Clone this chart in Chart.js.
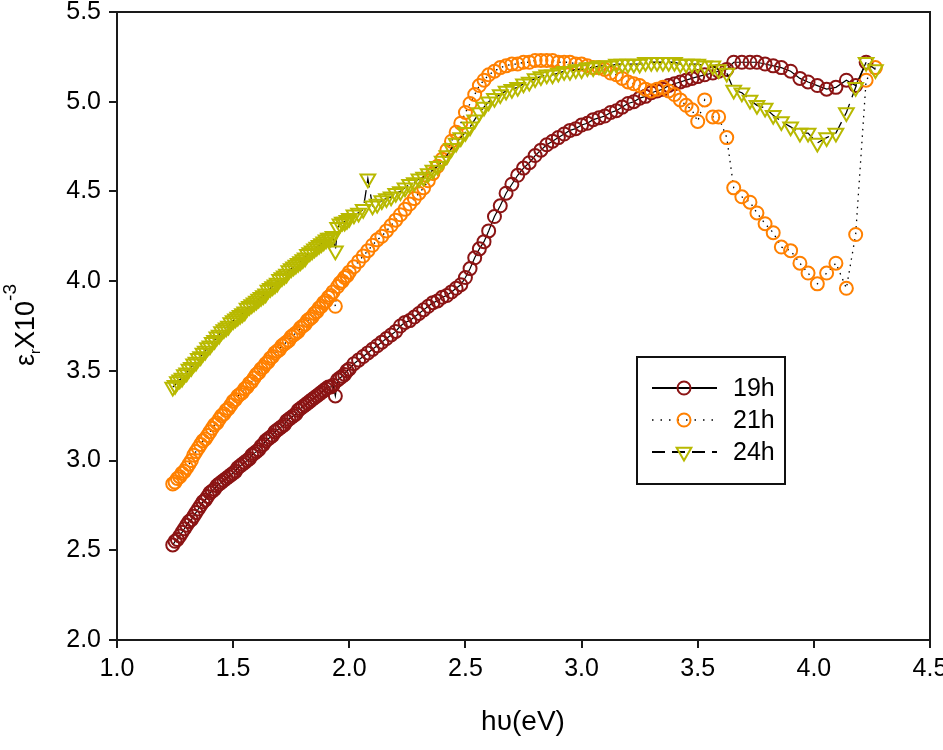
<!DOCTYPE html>
<html>
<head>
<meta charset="utf-8">
<script src="https://cdn.jsdelivr.net/npm/chart.js@4.4.0/dist/chart.umd.min.js"></script>
<style>
html, body { margin: 0; padding: 0; background: #fff; }
#wrap { width: 943px; height: 750px; }
</style>
</head>
<body>
<div id="wrap"><canvas id="epsChart"></canvas></div>
<script>
// photon energy (eV), shared by the three samples
const energy = [
    1.24, 1.25, 1.26, 1.27, 1.28, 1.29, 1.30, 1.31, 1.32, 1.33,
    1.34, 1.35, 1.36, 1.37, 1.38, 1.39, 1.40, 1.41, 1.42, 1.43,
    1.44, 1.45, 1.46, 1.47, 1.48, 1.49, 1.50, 1.51, 1.52, 1.53,
    1.54, 1.55, 1.56, 1.57, 1.58, 1.59, 1.60, 1.61, 1.62, 1.63,
    1.64, 1.65, 1.66, 1.67, 1.68, 1.69, 1.70, 1.71, 1.72, 1.73,
    1.74, 1.75, 1.76, 1.77, 1.78, 1.79, 1.80, 1.81, 1.82, 1.83,
    1.84, 1.85, 1.86, 1.87, 1.88, 1.89, 1.90, 1.91, 1.92, 1.93,
    1.94, 1.95, 1.96, 1.97, 1.98, 1.99, 2.00,
    2.02, 2.04, 2.06, 2.08, 2.10, 2.12, 2.14, 2.16, 2.18, 2.20,
    2.22, 2.24, 2.26, 2.28, 2.30, 2.32, 2.34, 2.36, 2.38, 2.40,
    2.42, 2.44, 2.46, 2.48, 2.50, 2.52, 2.54, 2.56, 2.58,
    2.600, 2.625, 2.650, 2.675, 2.700, 2.725, 2.750, 2.775, 2.800, 2.825,
    2.850, 2.875, 2.900, 2.925, 2.950, 2.975, 3.000, 3.025, 3.050, 3.075,
    3.100, 3.125, 3.150, 3.175, 3.200, 3.225, 3.250, 3.275, 3.300, 3.325,
    3.350, 3.375, 3.400, 3.425, 3.450, 3.475,
    3.50, 3.53, 3.565, 3.59, 3.625, 3.655, 3.69, 3.725, 3.755, 3.79,
    3.825, 3.86, 3.90, 3.94, 3.975, 4.015, 4.055, 4.095, 4.14, 4.18,
    4.225, 4.265
];

// εr x10^-3
const eps19h = [
    2.53, 2.55, 2.56, 2.58, 2.60, 2.62, 2.64, 2.66, 2.67, 2.69,
    2.71, 2.73, 2.75, 2.77, 2.78, 2.80, 2.82, 2.83, 2.84, 2.86,
    2.87, 2.88, 2.89, 2.90, 2.91, 2.92, 2.93, 2.94, 2.96, 2.97,
    2.98, 2.99, 3.00, 3.01, 3.03, 3.04, 3.05, 3.06, 3.08, 3.09,
    3.11, 3.12, 3.13, 3.14, 3.16, 3.17, 3.18, 3.19, 3.20, 3.22,
    3.23, 3.24, 3.25, 3.26, 3.28, 3.29, 3.30, 3.31, 3.32, 3.33,
    3.34, 3.35, 3.36, 3.37, 3.38, 3.39, 3.40, 3.41, 3.41, 3.42,
    3.36, 3.45, 3.46, 3.47, 3.48, 3.50, 3.51,
    3.54, 3.56, 3.58, 3.60, 3.62, 3.64, 3.66, 3.68, 3.70, 3.72,
    3.75, 3.77, 3.78, 3.80, 3.82, 3.84, 3.86, 3.88, 3.89, 3.91,
    3.92, 3.94, 3.96, 3.98, 4.02, 4.07, 4.13, 4.18, 4.22,
    4.28, 4.36, 4.42, 4.49, 4.54, 4.59, 4.63, 4.66, 4.70, 4.73,
    4.76, 4.78, 4.80, 4.82, 4.84, 4.85, 4.87, 4.88, 4.90, 4.91,
    4.92, 4.94, 4.95, 4.97, 4.99, 5.00, 5.02, 5.03, 5.05, 5.06,
    5.07, 5.09, 5.10, 5.11, 5.12, 5.13,
    5.14, 5.15, 5.16, 5.17, 5.18, 5.22, 5.22, 5.22, 5.22, 5.21,
    5.20, 5.19, 5.17, 5.13, 5.11, 5.09, 5.07, 5.08, 5.12, 5.09,
    5.22, null
];

const eps21h = [
    2.87, 2.88, 2.90, 2.91, 2.93, 2.94, 2.96, 2.98, 3.00, 3.03,
    3.05, 3.07, 3.09, 3.11, 3.12, 3.14, 3.16, 3.18, 3.20, 3.21,
    3.23, 3.25, 3.26, 3.28, 3.29, 3.31, 3.33, 3.34, 3.36, 3.37,
    3.38, 3.40, 3.41, 3.43, 3.44, 3.46, 3.48, 3.49, 3.51, 3.52,
    3.54, 3.55, 3.57, 3.58, 3.60, 3.61, 3.62, 3.64, 3.65, 3.66,
    3.67, 3.69, 3.70, 3.71, 3.72, 3.74, 3.75, 3.76, 3.78, 3.79,
    3.80, 3.82, 3.83, 3.85, 3.86, 3.88, 3.89, 3.91, 3.92, 3.94,
    3.86, 3.97, 3.99, 4.00, 4.02, 4.03, 4.05,
    4.08, 4.11, 4.14, 4.17, 4.20, 4.23, 4.25, 4.28, 4.31, 4.34,
    4.37, 4.40, 4.43, 4.46, 4.49, 4.52, 4.56, 4.60, 4.64, 4.68,
    4.73, 4.78, 4.83, 4.88, 4.94, 4.99, 5.04, 5.09, 5.12,
    5.15, 5.17, 5.19, 5.20, 5.21, 5.21, 5.22, 5.22, 5.23, 5.23,
    5.23, 5.23, 5.22, 5.22, 5.22, 5.21, 5.21, 5.20, 5.19, 5.19,
    5.18, 5.16, 5.15, 5.13, 5.11, 5.10, 5.09, 5.07, 5.06, 5.07,
    5.08, 5.06, 5.04, 5.01, 4.98, 4.955,
    4.89, 5.01, 4.915, 4.915, 4.80, 4.52, 4.47, 4.44, 4.38, 4.32,
    4.27, 4.19, 4.17, 4.10, 4.045, 3.985, 4.045, 4.10, 3.96, 4.26,
    5.12, 5.19
];

const eps24h = [
    3.41, 3.42, 3.44, 3.45, 3.46, 3.48, 3.49, 3.51, 3.52, 3.54,
    3.55, 3.57, 3.58, 3.60, 3.61, 3.63, 3.64, 3.66, 3.67, 3.69,
    3.70, 3.72, 3.73, 3.74, 3.75, 3.77, 3.78, 3.79, 3.80, 3.81,
    3.82, 3.83, 3.85, 3.86, 3.87, 3.88, 3.89, 3.90, 3.91, 3.92,
    3.93, 3.95, 3.96, 3.97, 3.98, 3.99, 4.01, 4.02, 4.03, 4.04,
    4.06, 4.07, 4.08, 4.09, 4.10, 4.11, 4.12, 4.13, 4.15, 4.16,
    4.17, 4.18, 4.19, 4.20, 4.21, 4.22, 4.23, 4.24, 4.24, 4.25,
    4.17, 4.30, 4.32, 4.33, 4.33, 4.34, 4.35,
    4.37, 4.38, 4.40, 4.57, 4.42, 4.43, 4.45, 4.46, 4.47, 4.49,
    4.50, 4.52, 4.54, 4.55, 4.57, 4.58, 4.60, 4.62, 4.64, 4.67,
    4.70, 4.74, 4.77, 4.80, 4.83, 4.86, 4.90, 4.94, 4.97,
    5.00, 5.02, 5.04, 5.06, 5.07, 5.08, 5.10, 5.11, 5.13, 5.14,
    5.15, 5.15, 5.16, 5.17, 5.17, 5.18, 5.18, 5.19, 5.19, 5.20,
    5.20, 5.20, 5.21, 5.21, 5.21, 5.21, 5.21, 5.22, 5.22, 5.22,
    5.22, 5.22, 5.22, 5.21, 5.21, 5.21,
    5.21, 5.20, 5.20, 5.18, 5.16, 5.065, 5.05, 5.01, 4.98, 4.965,
    4.925, 4.89, 4.86, 4.825, 4.825, 4.77, 4.80, 4.825, 4.94, 5.08,
    5.22, 5.18
];

const seriesNames = ['19h', '21h', '24h'];
const xTicks = [1.0, 1.5, 2.0, 2.5, 3.0, 3.5, 4.0, 4.5];
const yTicks = [2.0, 2.5, 3.0, 3.5, 4.0, 4.5, 5.0, 5.5];

const FONT = '"Liberation Sans", Arial, sans-serif';

function toPoints(values) {
    return energy.map((e, i) => ({ x: e, y: values[i] }));
}

// box around the plot area
const framePlugin = {
    id: 'frame',
    afterDraw(chart) {
        const { ctx, chartArea: a } = chart;
        ctx.save();
        ctx.strokeStyle = '#1a1a1a';
        ctx.lineWidth = 2;
        ctx.strokeRect(a.left, a.top, a.right - a.left, a.bottom - a.top);
        ctx.restore();
    }
};

// axis titles (y title needs sub/superscripts)
const titlesPlugin = {
    id: 'titles',
    afterDraw(chart) {
        const ctx = chart.ctx;
        ctx.save();
        ctx.fillStyle = '#000';
        ctx.font = '28px ' + FONT;
        ctx.textAlign = 'center';
        ctx.textBaseline = 'middle';
        ctx.fillText('h\u03C5(eV)', 523, 722);

        ctx.translate(34, 325);
        ctx.rotate(-Math.PI / 2);
        ctx.textAlign = 'left';
        ctx.textBaseline = 'alphabetic';
        const parts = [
            { t: '\u03B5', size: 27, dy: 0 },
            { t: 'r', size: 15, dy: 6 },
            { t: 'X10', size: 27, dy: 0 },
            { t: '-3', size: 19, dy: -18 }
        ];
        let total = 0;
        parts.forEach(p => {
            ctx.font = p.size + 'px ' + FONT;
            p.w = ctx.measureText(p.t).width;
            total += p.w;
        });
        let x = -total / 2;
        parts.forEach(p => {
            ctx.font = p.size + 'px ' + FONT;
            ctx.fillText(p.t, x, p.dy);
            x += p.w;
        });
        ctx.restore();
    }
};

// legend box inside the plot
const legendPlugin = {
    id: 'boxLegend',
    afterDraw(chart) {
        const ctx = chart.ctx;
        const box = { x: 637, y: 357, w: 148, h: 127 };
        ctx.save();
        ctx.strokeStyle = '#111';
        ctx.lineWidth = 2;
        ctx.strokeRect(box.x, box.y, box.w, box.h);
        chart.data.datasets.forEach((ds, i) => {
            const y = 388 + i * 32;
            ctx.strokeStyle = '#000';
            ctx.lineWidth = i === 1 ? 1.5 : 2;
            ctx.setLineDash(i === 1 ? [1.5, 7] : (ds.borderDash || []));
            ctx.beginPath();
            ctx.moveTo(652, y);
            ctx.lineTo(717, y);
            ctx.stroke();
            ctx.setLineDash([]);
            ctx.strokeStyle = ds.pointBorderColor;
            ctx.fillStyle = 'rgba(0,0,0,0)';
            ctx.lineWidth = ds.pointBorderWidth;
            Chart.helpers.drawPoint(ctx, {
                pointStyle: ds.pointStyle,
                rotation: ds.pointRotation || 0,
                radius: ds.pointRadius,
                borderWidth: ds.pointBorderWidth
            }, 684, y);
            ctx.fillStyle = '#000';
            ctx.font = '25px ' + FONT;
            ctx.textAlign = 'left';
            ctx.textBaseline = 'middle';
            ctx.fillText(ds.label, 733, y + 1);
        });
        ctx.restore();
    }
};

const ctx = document.getElementById('epsChart').getContext('2d');
new Chart(ctx, {
    type: 'scatter',
    data: {
        datasets: [{
            label: seriesNames[0],
            data: toPoints(eps19h),
            showLine: true,
            borderColor: '#000',
            borderWidth: 1.2,
            pointStyle: 'circle',
            pointRadius: 6.5,
            pointBorderWidth: 2,
            pointBorderColor: '#8b1414',
            pointBackgroundColor: 'rgba(0,0,0,0)',
            spanGaps: true,
            order: 2
        }, {
            label: seriesNames[1],
            data: toPoints(eps21h),
            showLine: true,
            borderColor: '#000',
            borderWidth: 1.3,
            borderDash: [1.5, 5],
            pointStyle: 'circle',
            pointRadius: 6.5,
            pointBorderWidth: 2,
            pointBorderColor: '#ff8000',
            pointBackgroundColor: 'rgba(0,0,0,0)',
            spanGaps: true,
            order: 1
        }, {
            label: seriesNames[2],
            data: toPoints(eps24h),
            showLine: true,
            borderColor: '#000',
            borderWidth: 1.3,
            borderDash: [13, 7],
            pointStyle: 'triangle',
            pointRotation: 180,
            pointRadius: 8.5,
            pointBorderWidth: 2,
            pointBorderColor: '#b8b900',
            pointBackgroundColor: 'rgba(0,0,0,0)',
            spanGaps: true,
            order: 0
        }]
    },
    options: {
        responsive: true,
        maintainAspectRatio: false,
        animation: false,
        layout: {
            padding: { top: 12, right: 13, left: 0, bottom: 0 }
        },
        plugins: {
            legend: { display: false },
            tooltip: { enabled: false }
        },
        elements: {
            line: { tension: 0 }
        },
        scales: {
            x: {
                type: 'linear',
                min: 1.0,
                max: 4.5,
                afterBuildTicks: scale => { scale.ticks = xTicks.map(v => ({ value: v })); },
                afterFit: scale => {
                    scale.height = 110;
                    scale.paddingLeft = 0;
                    scale.paddingRight = 0;
                },
                ticks: {
                    callback: v => v.toFixed(1),
                    color: '#000',
                    padding: 6,
                    maxRotation: 0,
                    font: { family: FONT, size: 25 }
                },
                grid: {
                    drawOnChartArea: false,
                    drawTicks: true,
                    tickLength: 8,
                    color: '#1a1a1a',
                    lineWidth: 2
                },
                border: { color: '#1a1a1a', width: 2 }
            },
            y: {
                type: 'linear',
                min: 2.0,
                max: 5.5,
                afterBuildTicks: scale => { scale.ticks = yTicks.map(v => ({ value: v })); },
                afterFit: scale => {
                    scale.width = 117;
                    scale.paddingTop = 0;
                    scale.paddingBottom = 0;
                },
                ticks: {
                    callback: v => v.toFixed(1),
                    color: '#000',
                    padding: 8,
                    font: { family: FONT, size: 25 }
                },
                grid: {
                    drawOnChartArea: false,
                    drawTicks: true,
                    tickLength: 8,
                    color: '#1a1a1a',
                    lineWidth: 2
                },
                border: { color: '#1a1a1a', width: 2 }
            }
        }
    },
    plugins: [framePlugin, titlesPlugin, legendPlugin]
});
</script>
</body>
</html>
